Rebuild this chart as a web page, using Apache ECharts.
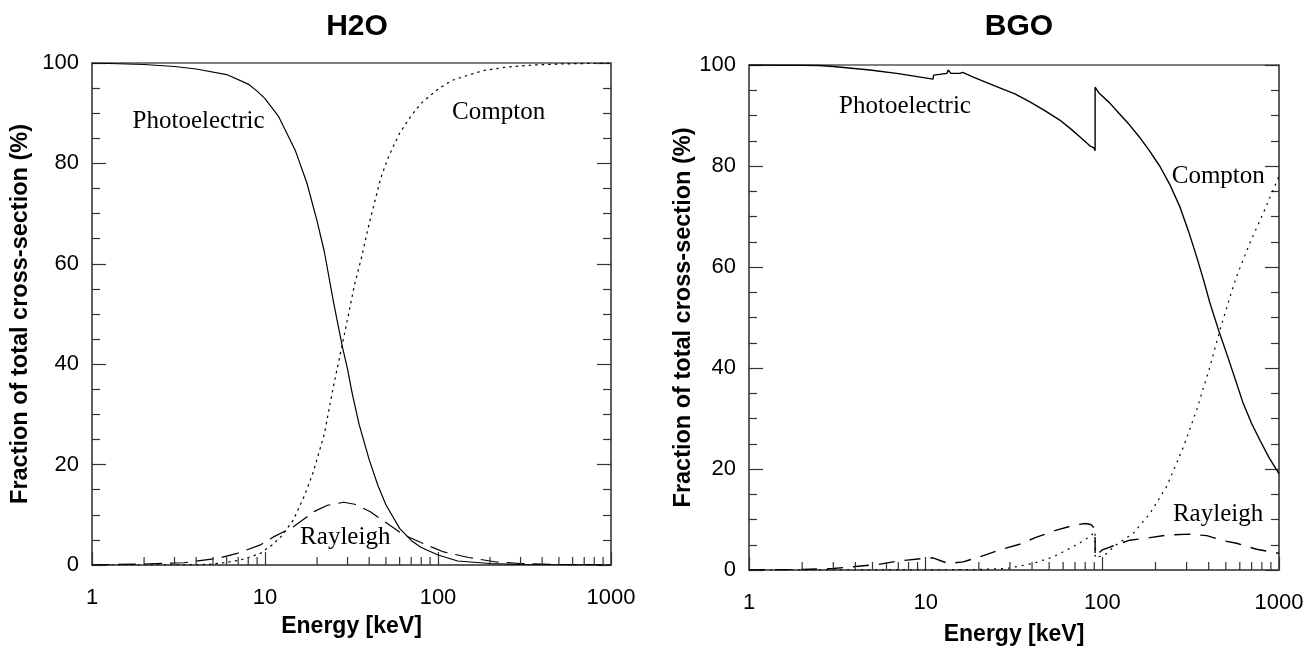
<!DOCTYPE html>
<html>
<head>
<meta charset="utf-8">
<title>Cross-section fractions</title>
<script src="https://cdn.jsdelivr.net/npm/echarts@6/dist/echarts.min.js"></script>
<style>
  html, body { margin: 0; padding: 0; background: #fff; }
  #chart { width: 1314px; height: 653px; }
</style>
</head>
<body>
<div id="chart"></div>
<script>
(function () {
  'use strict';

  // panel titles
  const panelTitles = ['H2O', 'BGO'];

  // [energy keV, fraction %]
  const h2oPhoto = [[1,100],[2,99.7],[3,99.3],[4,98.8],[6,97.7],[8,95.8],[9,94.4],[10,92.9],[12,89.3],[15,82.5],[17.5,76],[20,68.5],[22,62.5],[25,52],[28,43.5],[30,39],[32,34],[35,28],[40,21],[45,15.8],[50,12],[60,7.3],[70,4.9],[80,3.5],[100,2],[130,0.8],[200,0.3],[300,0.1],[1000,0]];
  const h2oCompton = [[1,0],[3,0],[4,0.05],[4.8,0.15],[6,0.5],[7.2,1],[8,1.5],[9.4,2.3],[11,4],[12.5,5.8],[14.6,9],[17,14],[19,18.5],[22,26],[25,36],[28,44],[30,49],[33,56],[36,61],[40,68],[46.6,77],[52,81.5],[60,86],[70,89.5],[80,92],[100,94.8],[120,96.5],[150,97.6],[184,98.5],[250,99.2],[360,99.6],[500,99.8],[1000,100]];
  const h2oRayleigh = [[1,0.05],[2,0.2],[3.4,0.45],[5.3,1.3],[6.9,2.3],[9.4,4],[11.2,5.6],[14.6,7.6],[19.1,10.6],[23,11.9],[28.5,12.5],[33,12.1],[40.6,10.6],[50.7,8.3],[63.3,6],[84.5,4.1],[108,2.6],[150,1.5],[217,0.6],[300,0.3],[500,0.1],[1000,0.03]];

  const bgoPhoto = [[1,100],[2,99.95],[2.5,99.9],[3,99.7],[4.84,99],[7,98.3],[11,97.2],[11.1,98],[13.2,98.35],[13.42,99],[13.9,98.35],[15.6,98.35],[16.2,98.55],[18.6,97.6],[25.2,95.7],[32,94.3],[38.9,92.7],[47,91],[57.4,89.1],[66,87.4],[74.5,85.8],[85,84],[89.5,83.6],[91,83],[91,95.6],[96,94.4],[110,92.5],[124.5,90.4],[142,88.2],[161.6,85.8],[185,83],[212,79.9],[242,76.2],[275,71.9],[308,67],[342,62],[375,57.3],[407,52.8],[455,47.5],[505,42.9],[565,37.8],[627,33],[700,29],[780,25.7],[880,22.2],[1000,19.1]];
  const bgoCompton = [[1,0],[10,0.02],[20,0.1],[28.7,0.3],[40.6,1.3],[52.7,2.6],[68.4,4.6],[85,6.6],[91,7.6],[91,2.4],[103.5,3],[120,5],[150,7.3],[186,11.2],[231,16.5],[288,24.4],[342,31.7],[407,40.3],[463,47.5],[528,54.1],[575,58.1],[683,64.7],[813,70.6],[1000,78]];
  const bgoRayleigh = [[1,0.02],[2,0.1],[3,0.3],[5.4,1.1],[7,1.8],[9.9,2.3],[11,2.4],[11.2,2.1],[13.4,1.3],[16.3,1.6],[21,2.8],[26.3,4],[34,5.1],[42.4,6.5],[55,7.9],[69.8,8.9],[80,9.2],[86,9],[91,8.2],[91,2.6],[100,4],[120,5],[143,5.9],[186,6.4],[231,6.9],[313,7.1],[390,6.8],[483,5.8],[575,5.3],[747,4.1],[1000,3.3]];

  // curve labels: [text, energy, fraction]
  const h2oNotes = [['Photoelectric', 4.13, 88.4], ['Compton', 224, 90.2], ['Rayleigh', 29.1, 5.4]];
  const bgoNotes = [['Photoelectric', 7.64, 91.7], ['Compton', 453, 78], ['Rayleigh', 452, 11]];

  // log minor ticks along energy axis
  const minorEnergyTicks = [2,3,4,5,6,7,8,9,20,30,40,50,60,70,80,90,200,300,400,500,600,700,800,900];

  const xMin = 1, xMax = 1000;
  const yMin = 0, yMax = 100, yStep = 20;

  const SANS = '"Liberation Sans", Arial, sans-serif';
  const SERIF = '"Liberation Serif", "Times New Roman", serif';
  const INK = '#000';
  const FRAME = '#555';

  const grids = [
    { left: 92, top: 63, width: 519, height: 502 },
    { left: 749, top: 65, width: 530, height: 505 }
  ];

  const chart = echarts.init(document.getElementById('chart'), null, { renderer: 'canvas' });

  function xAxisFor(i, nameGap) {
    return {
      gridIndex: i, type: 'log', logBase: 10, min: xMin, max: xMax,
      name: 'Energy [keV]', nameLocation: 'middle', nameGap: nameGap,
      nameTextStyle: { fontFamily: SANS, fontWeight: 'bold', fontSize: 23, color: INK },
      axisLine: { show: true, lineStyle: { color: FRAME, width: 1.5 } },
      axisTick: { show: true, inside: true, length: 13, lineStyle: { color: '#333', width: 1.2 } },
      axisLabel: { fontFamily: SANS, fontSize: 22, color: INK, margin: 22, formatter: v => String(Math.round(v)) },
      splitLine: { show: false }
    };
  }

  function yAxisFor(i, right, nameGap) {
    return {
      gridIndex: i, type: 'value', min: yMin, max: yMax, interval: yStep,
      position: right ? 'right' : 'left',
      name: right ? '' : 'Fraction of total cross-section (%)',
      nameLocation: 'middle', nameGap: nameGap,
      nameTextStyle: { fontFamily: SANS, fontWeight: 'bold', fontSize: 23.5, color: INK },
      axisLine: { show: true, lineStyle: { color: FRAME, width: 1.5 } },
      axisTick: { show: true, inside: true, length: 14, lineStyle: { color: '#333', width: 1.2 } },
      minorTick: { show: true, splitNumber: 4, length: 8, lineStyle: { color: '#333', width: 1.2 } },
      axisLabel: { show: !right, fontFamily: SANS, fontSize: 22, color: INK, margin: 13 },
      splitLine: { show: false }
    };
  }

  function curve(name, data, axis, dash, width) {
    return {
      name: name, type: 'line', data: data,
      xAxisIndex: axis, yAxisIndex: axis * 2,
      showSymbol: false, symbol: 'none', smooth: false,
      lineStyle: { color: INK, width: width || 1.2, type: dash || 'solid' },
      silent: true, z: 3
    };
  }

  function notes(list, axis) {
    return {
      type: 'scatter', xAxisIndex: axis, yAxisIndex: axis * 2,
      data: [], silent: true,
      markPoint: {
        symbol: 'circle', symbolSize: 0, silent: true,
        label: { show: true, position: 'inside', fontFamily: SERIF, fontSize: 25, color: INK, formatter: p => p.name },
        data: list.map(n => ({ name: n[0], coord: [n[1], n[2]] }))
      }
    };
  }

  function minorTicks(axis) {
    return {
      type: 'custom', xAxisIndex: axis, yAxisIndex: axis * 2,
      data: minorEnergyTicks.map(v => [v, 0]), silent: true, z: 4,
      renderItem: function (params, api) {
        const p = api.coord([api.value(0), 0]);
        return {
          type: 'line',
          shape: { x1: p[0], y1: p[1], x2: p[0], y2: p[1] - 8 },
          style: { stroke: '#333', lineWidth: 1.2 }
        };
      }
    };
  }

  chart.setOption({
    animation: false,
    backgroundColor: '#fff',
    title: [
      { text: panelTitles[0], left: 352, top: 7, textAlign: 'center',
        textStyle: { fontFamily: SANS, fontWeight: 'bold', fontSize: 30, color: INK } },
      { text: panelTitles[1], left: 1014, top: 7, textAlign: 'center',
        textStyle: { fontFamily: SANS, fontWeight: 'bold', fontSize: 30, color: INK } }
    ],
    grid: grids.map(g => Object.assign({ show: true, borderColor: FRAME, borderWidth: 1.5, backgroundColor: 'transparent' }, g)),
    xAxis: [xAxisFor(0, 50), xAxisFor(1, 53)],
    yAxis: [yAxisFor(0, false, 59), yAxisFor(0, true, 0), yAxisFor(1, false, 50), yAxisFor(1, true, 0)],
    series: [
      curve('Photoelectric', h2oPhoto, 0, 'solid'),
      curve('Compton', h2oCompton, 0, [2.5, 4]),
      curve('Rayleigh', h2oRayleigh, 0, [18, 8]),
      curve('Photoelectric', bgoPhoto, 1, 'solid', 1.4),
      curve('Compton', bgoCompton, 1, [2, 5]),
      curve('Rayleigh', bgoRayleigh, 1, [16, 10], 1.4),
      notes(h2oNotes, 0),
      notes(bgoNotes, 1),
      minorTicks(0),
      minorTicks(1)
    ]
  });

  window.addEventListener('resize', () => chart.resize());
})();
</script>
</body>
</html>
